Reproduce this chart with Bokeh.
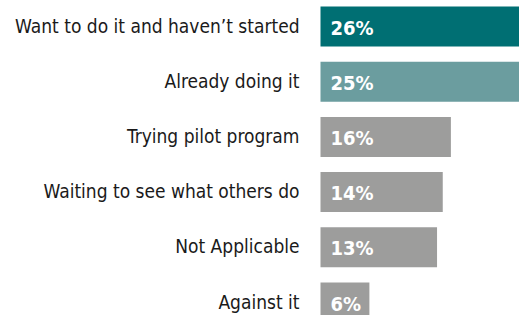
from bokeh.plotting import figure
from bokeh.models import ColumnDataSource, Range1d
from bokeh.core.properties import value
from bokeh.embed import file_html
from bokeh.resources import INLINE

categories = [
    "Want to do it and haven\u2019t started",
    "Already doing it",
    "Trying pilot program",
    "Waiting to see what others do",
    "Not Applicable",
    "Against it",
]
# bar lengths (percent)
values = [26, 25, 16, 15, 14.3, 6]
value_labels = ["26%", "25%", "16%", "14%", "13%", "6%"]
colors = ["#006F73", "#6B9D9F", "#9D9D9C", "#9D9D9C", "#9D9D9C", "#9D9D9C"]

pos = list(range(len(categories)))
src = ColumnDataSource(dict(y=pos, v=values, cat=categories, lab=value_labels,
                            c=colors, zero=[0] * len(pos)))

W, H = 519, 315
px_per_pct = 8.15
zero_px = 320  # position of 0 inside the figure
x_range = Range1d(-zero_px / px_per_pct, (W - zero_px) / px_per_pct)
row_px = 55.2
first_center = 26.0  # centre of first row, in px from the top
y_range = Range1d((H - first_center) / row_px, -first_center / row_px)

FONT = value("DejaVu Sans Condensed, Roboto")

p = figure(width=W, height=H, x_range=x_range, y_range=y_range,
           output_backend="svg", toolbar_location=None, min_border=0)
p.axis.visible = False
p.grid.visible = False
p.outline_line_color = None
p.background_fill_color = "white"

p.hbar(y="y", left="zero", right="v", height=40 / row_px, fill_color="c",
       line_color=None, source=src)

p.text(x="zero", y="y", text="cat", source=src, x_offset=-21, y_offset=-1,
       text_align="right", text_baseline="middle", text_font=FONT,
       text_font_size="19px", text_color="#1a1a1a")
p.text(x="zero", y="y", text="lab", source=src, x_offset=10, y_offset=1,
       text_align="left", text_baseline="middle", text_font=FONT,
       text_font_style="bold", text_font_size="20px", text_color="white")

open("out.html", "w").write(file_html(p, INLINE))
